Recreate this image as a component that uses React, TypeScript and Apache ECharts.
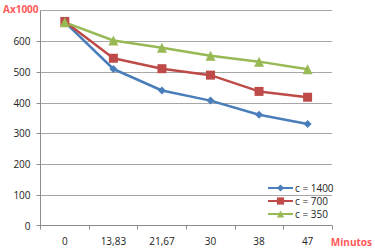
import React, { useEffect, useRef } from "react";
import * as echarts from "echarts";

const categories = ["0", "13,83", "21,67", "30", "38", "47"];
const seriesNames = ["c = 1400", "c = 700", "c = 350"];
const c1400 = [663, 510, 440, 407, 361, 331];
const c700 = [665, 545, 511, 490, 437, 418];
const c350 = [662, 603, 579, 553, 534, 509];
const yTicks = { min: 0, max: 700, interval: 100 };

const FONT = "Open Sans";

export default function App() {
  const ref = useRef<HTMLDivElement>(null);
  useEffect(() => {
    if (!ref.current) return;
    const chart = echarts.init(ref.current, null, { renderer: "svg" });
    const mk = (name: string, data: number[], color: string, symbol: string, size: number) => ({
      name,
      type: "line",
      data,
      symbol,
      symbolSize: size,
      color,
      lineStyle: { color, width: 2.5 },
      itemStyle: { color },
    });
    chart.setOption({
      animation: false,
      backgroundColor: "#ffffff",
      textStyle: { fontFamily: FONT },
      grid: { left: 39, right: 38, top: 10.7, bottom: 24.5, containLabel: false },
      legend: {
        orient: "vertical",
        left: 262,
        top: 178,
        itemWidth: 25,
        itemHeight: 9,
        itemGap: 3,
        textStyle: { fontFamily: FONT, fontSize: 10, color: "#222", padding: [0, 0, 0, -3] },
        data: seriesNames,
      },
      xAxis: {
        type: "category",
        data: categories,
        boundaryGap: true,
        name: "Minutos",
        nameLocation: "end",
        nameGap: -1,
        nameTextStyle: {
          fontFamily: FONT,
          fontSize: 10,
          fontWeight: "bold",
          color: "#ff5a5a",
          align: "left",
          verticalAlign: "top",
          padding: [11, 0, 0, 0],
        },
        axisLine: { show: true, lineStyle: { color: "#8c8c8c", width: 1 } },
        axisTick: { show: true, alignWithLabel: false, length: 4, lineStyle: { color: "#8c8c8c" } },
        axisLabel: { fontFamily: FONT, fontSize: 10, color: "#222", margin: 10 },
        splitLine: { show: false },
      },
      yAxis: {
        type: "value",
        min: yTicks.min,
        max: yTicks.max,
        interval: yTicks.interval,
        name: "Ax1000",
        nameLocation: "end",
        nameGap: 2,
        nameTextStyle: {
          fontFamily: FONT,
          fontSize: 10,
          fontWeight: "bold",
          color: "#ff5a5a",
          align: "right",
          verticalAlign: "middle",
          padding: [0, 2, 0, 0],
        },
        axisLine: { show: true, lineStyle: { color: "#8c8c8c", width: 1 } },
        axisTick: { show: true, length: 4, lineStyle: { color: "#8c8c8c" } },
        axisLabel: { fontFamily: FONT, fontSize: 10, color: "#222", margin: 10, showMaxLabel: false },
        splitLine: { show: true, lineStyle: { color: "#a6a6a6", width: 1 } },
      },
      series: [
        mk(seriesNames[0], c1400, "#4a7ebb", "diamond", 8),
        mk(seriesNames[1], c700, "#be4b48", "rect", 9),
        mk(seriesNames[2], c350, "#98b954", "triangle", 10),
      ],
    });
    return () => chart.dispose();
  }, []);
  return (
    <div
      ref={ref}
      style={{ position: "fixed", left: 0, top: 0, width: 375, height: 250 }}
    />
  );
}
